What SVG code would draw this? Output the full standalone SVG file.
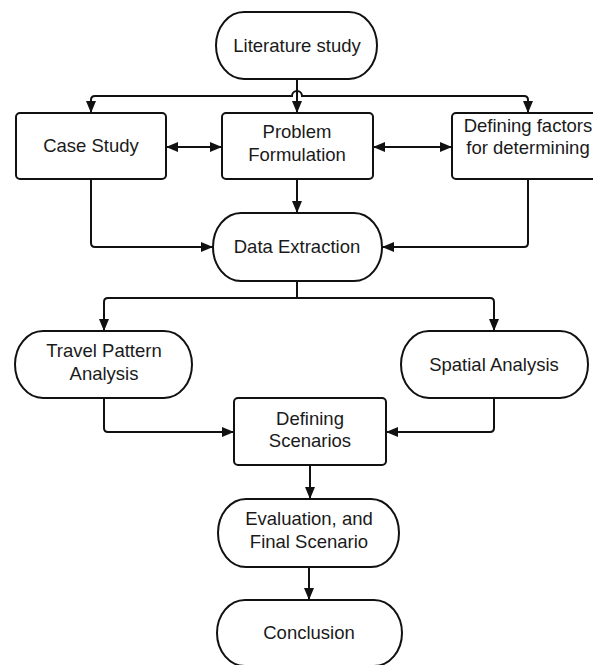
<svg xmlns="http://www.w3.org/2000/svg" width="593" height="665" viewBox="0 0 593 665">
  <style>
    .shape { fill: #ffffff; stroke: #111111; stroke-width: 2; }
    .label { font-family: "Liberation Sans", Arial, sans-serif; font-size: 18.5px; fill: #1a1a1a; text-anchor: middle; }
    .link { fill: none; stroke: #111111; stroke-width: 2; }
    .one { marker-end: url(#head); }
    .two { marker-start: url(#head); marker-end: url(#head); }
  </style>
  <defs>
    <marker id="head" markerUnits="userSpaceOnUse" markerWidth="13" markerHeight="11" refX="12" refY="5" orient="auto-start-reverse">
      <path d="M0,0 L12,5 L0,10 z" fill="#111111"/>
    </marker>
  </defs>
  <rect width="593" height="665" fill="#ffffff"/>

  <g id="connectors">
    <path class="link one" d="M297,79 V113"/>
    <path class="link two" d="M91,113 V100 Q91,96 95,96 H292 A5,5 0 0 1 302,96 H524 Q528,96 528,100 V113"/>
    <path class="link two" d="M166,147 H222"/>
    <path class="link two" d="M373,147 H452"/>
    <path class="link one" d="M91,179 V243 Q91,247 95,247 H213"/>
    <path class="link one" d="M297,179 V213"/>
    <path class="link one" d="M528,179 V243 Q528,247 524,247 H382"/>
    <path class="link" d="M297,281 V298"/>
    <path class="link two" d="M104,331 V302 Q104,298 108,298 H490 Q494,298 494,302 V331"/>
    <path class="link one" d="M104,398 V428 Q104,432 108,432 H234"/>
    <path class="link one" d="M494,398 V428 Q494,432 490,432 H386"/>
    <path class="link one" d="M310,465 V499"/>
    <path class="link one" d="M309,567 V600"/>
  </g>

  <g id="literature-study">
    <rect class="shape" x="216" y="12" width="161" height="67" rx="28" ry="33.5"/>
    <text class="label" x="297" y="52">Literature study</text>
  </g>

  <g id="case-study">
    <rect class="shape" x="16" y="113" width="150" height="66" rx="4"/>
    <text class="label" x="91" y="152">Case Study</text>
  </g>

  <g id="problem-formulation">
    <rect class="shape" x="222" y="113" width="151" height="66" rx="4"/>
    <text class="label" x="297" y="138">Problem</text>
    <text class="label" x="297" y="161">Formulation</text>
  </g>

  <g id="defining-factors">
    <rect class="shape" x="452" y="113" width="152" height="66" rx="4"/>
    <text class="label" x="528" y="132">Defining factors</text>
    <text class="label" x="528" y="154">for determining</text>
  </g>

  <g id="data-extraction">
    <rect class="shape" x="213" y="213" width="169" height="68" rx="28" ry="34"/>
    <text class="label" x="297" y="253">Data Extraction</text>
  </g>

  <g id="travel-pattern-analysis">
    <rect class="shape" x="15" y="331" width="177" height="67" rx="28" ry="33.5"/>
    <text class="label" x="104" y="357">Travel Pattern</text>
    <text class="label" x="104" y="380">Analysis</text>
  </g>

  <g id="spatial-analysis">
    <rect class="shape" x="401" y="331" width="187" height="67" rx="28" ry="33.5"/>
    <text class="label" x="494" y="371">Spatial Analysis</text>
  </g>

  <g id="defining-scenarios">
    <rect class="shape" x="234" y="398" width="152" height="67" rx="4"/>
    <text class="label" x="310" y="425">Defining</text>
    <text class="label" x="310" y="447">Scenarios</text>
  </g>

  <g id="evaluation">
    <rect class="shape" x="218" y="499" width="181" height="68" rx="28" ry="34"/>
    <text class="label" x="309" y="525">Evaluation, and</text>
    <text class="label" x="309" y="548">Final Scenario</text>
  </g>

  <g id="conclusion">
    <rect class="shape" x="217" y="600" width="185" height="66" rx="28" ry="33"/>
    <text class="label" x="309" y="639">Conclusion</text>
  </g>
</svg>
